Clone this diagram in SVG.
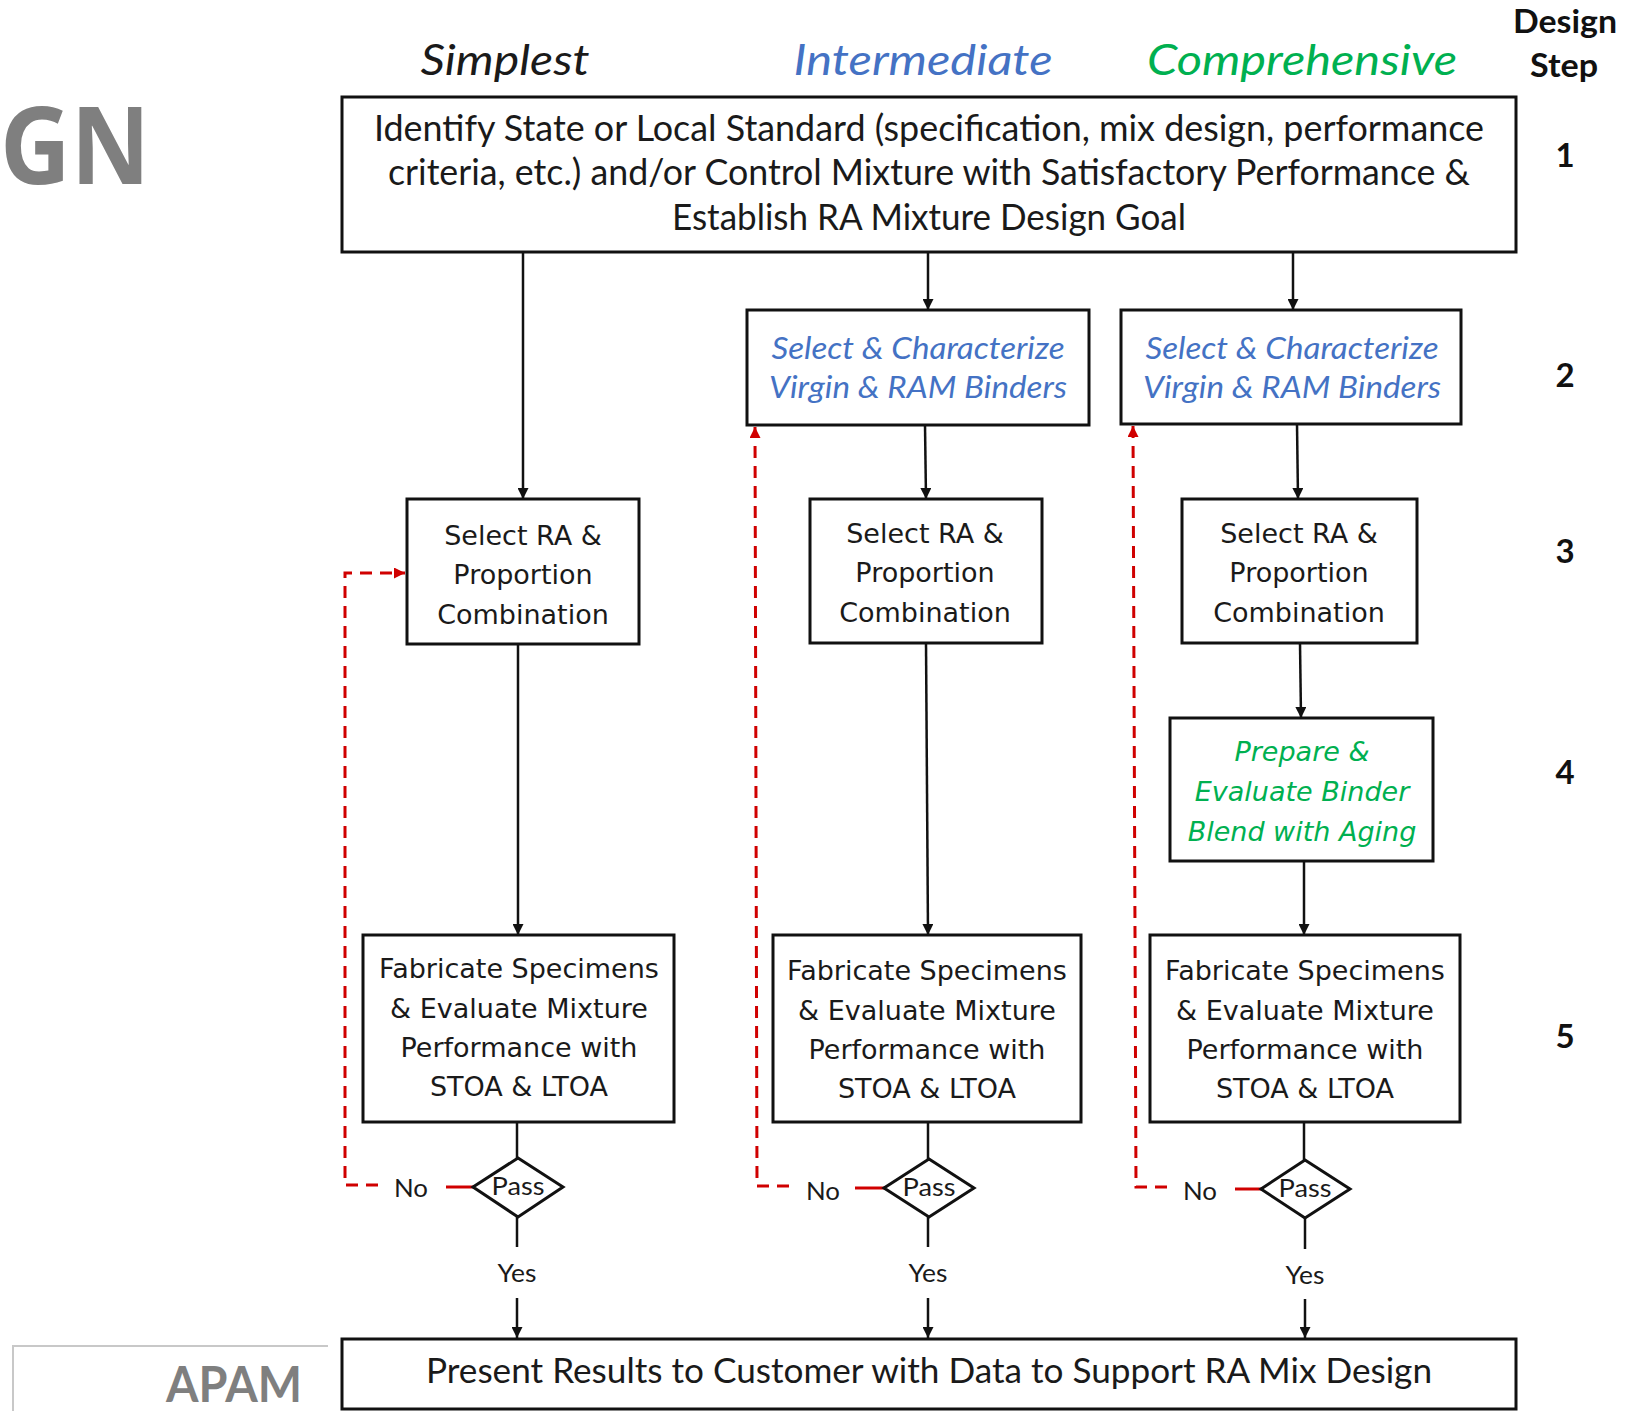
<svg xmlns="http://www.w3.org/2000/svg" width="1627" height="1411" viewBox="0 0 1627 1411">
<style>
.box{fill:#fff;stroke:#111;stroke-width:3}
.cal{font-family:Lato,"Liberation Sans",sans-serif;fill:#1a1a1a}
.ver{font-family:"DejaVu Sans","Liberation Sans",sans-serif;fill:#1a1a1a;font-size:27px;text-anchor:middle}
.blue{fill:#4472C4;font-style:italic;font-size:30px;text-anchor:middle}
.green{fill:#00B050;font-style:italic}
.step{font-family:Lato,"Liberation Sans",sans-serif;font-weight:bold;font-size:33px;fill:#111;text-anchor:middle}
.ln{fill:none;stroke:#111;stroke-width:2.5}
.red{fill:none;stroke:#D00000;stroke-width:3;stroke-dasharray:12 8}
.reds{fill:none;stroke:#D00000;stroke-width:3}
.lbl{font-family:Lato,"Liberation Sans",sans-serif;font-size:25px;fill:#1a1a1a;text-anchor:middle}
</style>
<defs>
<marker id="ah" viewBox="0 0 10 10" refX="10" refY="5" markerWidth="11" markerHeight="11" markerUnits="userSpaceOnUse" orient="auto"><path d="M0,0 L10,5 L0,10 z" fill="#111"/></marker>
<marker id="ahr" viewBox="0 0 10 10" refX="10" refY="5" markerWidth="11" markerHeight="11" markerUnits="userSpaceOnUse" orient="auto"><path d="M0,0 L10,5 L0,10 z" fill="#D00000"/></marker>
</defs>

<g id="background-labels">
<text x="150" y="184" font-family="'Open Sans',Lato,sans-serif" font-weight="bold" font-size="108" fill="#7f7f7f" text-anchor="end" textLength="150" lengthAdjust="spacingAndGlyphs">GN</text>
<path d="M328,1346 H13 V1411" fill="none" stroke="#c8c8c8" stroke-width="2"/>
<text x="302" y="1402" font-family="Lato,'Liberation Sans',sans-serif" font-weight="bold" font-size="49" fill="#7f7f7f" text-anchor="end" textLength="136" lengthAdjust="spacingAndGlyphs">APAM</text>
</g>

<g id="headers">
<text class="cal" x="505" y="75" font-size="43" font-style="italic" text-anchor="middle" textLength="169" lengthAdjust="spacingAndGlyphs">Simplest</text>
<text class="cal" x="923" y="75" font-size="43" font-style="italic" text-anchor="middle" fill="#4472C4" style="fill:#4472C4" textLength="259" lengthAdjust="spacingAndGlyphs">Intermediate</text>
<text class="cal" x="1302" y="75" font-size="43" font-style="italic" text-anchor="middle" style="fill:#00B050" textLength="310" lengthAdjust="spacingAndGlyphs">Comprehensive</text>
<text class="step" x="1565" y="33" textLength="104" lengthAdjust="spacingAndGlyphs">Design</text>
<text class="step" x="1564" y="77" textLength="68" lengthAdjust="spacingAndGlyphs">Step</text>
<text class="step" x="1565" y="167">1</text>
<text class="step" x="1565" y="387">2</text>
<text class="step" x="1565" y="563">3</text>
<text class="step" x="1565" y="784">4</text>
<text class="step" x="1565" y="1048">5</text>
</g>

<g id="connectors">
<line class="ln" x1="523" y1="252" x2="523" y2="499" marker-end="url(#ah)"/>
<line class="ln" x1="928" y1="252" x2="928" y2="310" marker-end="url(#ah)"/>
<line class="ln" x1="1293" y1="252" x2="1293" y2="310" marker-end="url(#ah)"/>
<line class="ln" x1="925" y1="425" x2="926" y2="499" marker-end="url(#ah)"/>
<line class="ln" x1="1297" y1="424" x2="1298" y2="499" marker-end="url(#ah)"/>
<line class="ln" x1="518" y1="644" x2="518" y2="935" marker-end="url(#ah)"/>
<line class="ln" x1="926" y1="643" x2="928" y2="935" marker-end="url(#ah)"/>
<line class="ln" x1="1300" y1="643" x2="1301" y2="718" marker-end="url(#ah)"/>
<line class="ln" x1="1304" y1="861" x2="1304" y2="935" marker-end="url(#ah)"/>
<line class="ln" x1="517" y1="1122" x2="517" y2="1158"/>
<line class="ln" x1="928" y1="1122" x2="928" y2="1159"/>
<line class="ln" x1="1304" y1="1122" x2="1304" y2="1160"/>
<line class="ln" x1="517" y1="1217" x2="517" y2="1247"/>
<line class="ln" x1="928" y1="1217" x2="928" y2="1247"/>
<line class="ln" x1="1305" y1="1218" x2="1305" y2="1249"/>
<line class="ln" x1="517" y1="1298" x2="517" y2="1338" marker-end="url(#ah)"/>
<line class="ln" x1="928" y1="1298" x2="928" y2="1338" marker-end="url(#ah)"/>
<line class="ln" x1="1305" y1="1299" x2="1305" y2="1338" marker-end="url(#ah)"/>
<text class="lbl" x="517" y="1282" textLength="39" lengthAdjust="spacingAndGlyphs">Yes</text>
<text class="lbl" x="928" y="1282" textLength="39" lengthAdjust="spacingAndGlyphs">Yes</text>
<text class="lbl" x="1305" y="1284" textLength="39" lengthAdjust="spacingAndGlyphs">Yes</text>
<line class="reds" x1="446" y1="1187" x2="473" y2="1187"/>
<line class="reds" x1="855" y1="1188" x2="884" y2="1188"/>
<line class="reds" x1="1235" y1="1189" x2="1261" y2="1189"/>
<text class="lbl" x="411" y="1197" textLength="34" lengthAdjust="spacingAndGlyphs">No</text>
<text class="lbl" x="823" y="1200" textLength="34" lengthAdjust="spacingAndGlyphs">No</text>
<text class="lbl" x="1200" y="1200" textLength="34" lengthAdjust="spacingAndGlyphs">No</text>
<path class="red" d="M378,1185 H345 V573 H405" marker-end="url(#ahr)"/>
<path class="red" d="M789,1186 H757 L755,427" marker-end="url(#ahr)"/>
<path class="red" d="M1167,1187 H1136 L1133,426" marker-end="url(#ahr)"/>
</g>

<g id="node-goal">
<rect class="box" x="342" y="97" width="1174" height="155"/>
<text class="cal" x="929" y="141" font-size="36" text-anchor="middle" textLength="1110" lengthAdjust="spacingAndGlyphs">Identify State or Local Standard (specification, mix design, performance</text>
<text class="cal" x="929" y="185" font-size="36" text-anchor="middle" textLength="1082" lengthAdjust="spacingAndGlyphs">criteria, etc.) and/or Control Mixture with Satisfactory Performance &amp;</text>
<text class="cal" x="929" y="230" font-size="36" text-anchor="middle" textLength="514" lengthAdjust="spacingAndGlyphs">Establish RA Mixture Design Goal</text>
</g>

<g id="node-binder-int">
<rect class="box" x="747" y="310" width="342" height="115"/>
<text class="cal blue" x="918" y="359" textLength="293" lengthAdjust="spacingAndGlyphs">Select &amp; Characterize</text>
<text class="cal blue" x="918" y="398" textLength="298" lengthAdjust="spacingAndGlyphs">Virgin &amp; RAM Binders</text>
</g>
<g id="node-binder-comp">
<rect class="box" x="1121" y="310" width="340" height="114"/>
<text class="cal blue" x="1292" y="359" textLength="293" lengthAdjust="spacingAndGlyphs">Select &amp; Characterize</text>
<text class="cal blue" x="1292" y="398" textLength="298" lengthAdjust="spacingAndGlyphs">Virgin &amp; RAM Binders</text>
</g>

<g id="node-ra-simp">
<rect class="box" x="407" y="499" width="232" height="145"/>
<text class="ver" x="523" y="545">Select RA &amp;</text>
<text class="ver" x="523" y="584">Proportion</text>
<text class="ver" x="523" y="624">Combination</text>
</g>
<g id="node-ra-int">
<rect class="box" x="810" y="499" width="232" height="144"/>
<text class="ver" x="925" y="543">Select RA &amp;</text>
<text class="ver" x="925" y="582">Proportion</text>
<text class="ver" x="925" y="622">Combination</text>
</g>
<g id="node-ra-comp">
<rect class="box" x="1182" y="499" width="235" height="144"/>
<text class="ver" x="1299" y="543">Select RA &amp;</text>
<text class="ver" x="1299" y="582">Proportion</text>
<text class="ver" x="1299" y="622">Combination</text>
</g>

<g id="node-blend">
<rect class="box" x="1170" y="718" width="263" height="143"/>
<text class="ver green" x="1302" y="761">Prepare &amp;</text>
<text class="ver green" x="1302" y="801">Evaluate Binder</text>
<text class="ver green" x="1302" y="841">Blend with Aging</text>
</g>

<g id="node-fab-simp">
<rect class="box" x="363" y="935" width="311" height="187"/>
<text class="ver" x="519" y="978">Fabricate Specimens</text>
<text class="ver" x="519" y="1018">&amp; Evaluate Mixture</text>
<text class="ver" x="519" y="1057">Performance with</text>
<text class="ver" x="519" y="1096">STOA &amp; LTOA</text>
</g>
<g id="node-fab-int">
<rect class="box" x="773" y="935" width="308" height="187"/>
<text class="ver" x="927" y="980">Fabricate Specimens</text>
<text class="ver" x="927" y="1020">&amp; Evaluate Mixture</text>
<text class="ver" x="927" y="1059">Performance with</text>
<text class="ver" x="927" y="1098">STOA &amp; LTOA</text>
</g>
<g id="node-fab-comp">
<rect class="box" x="1150" y="935" width="310" height="187"/>
<text class="ver" x="1305" y="980">Fabricate Specimens</text>
<text class="ver" x="1305" y="1020">&amp; Evaluate Mixture</text>
<text class="ver" x="1305" y="1059">Performance with</text>
<text class="ver" x="1305" y="1098">STOA &amp; LTOA</text>
</g>

<g id="node-pass-simp">
<path d="M518,1158 L563,1187 L518,1217 L473,1187 Z" fill="#fff" stroke="#111" stroke-width="3"/>
<text class="lbl" x="518" y="1195" textLength="53" lengthAdjust="spacingAndGlyphs">Pass</text>
</g>
<g id="node-pass-int">
<path d="M929,1159 L974,1188 L929,1217 L884,1188 Z" fill="#fff" stroke="#111" stroke-width="3"/>
<text class="lbl" x="929" y="1196" textLength="53" lengthAdjust="spacingAndGlyphs">Pass</text>
</g>
<g id="node-pass-comp">
<path d="M1305,1160 L1350,1189 L1305,1218 L1261,1189 Z" fill="#fff" stroke="#111" stroke-width="3"/>
<text class="lbl" x="1305" y="1197" textLength="53" lengthAdjust="spacingAndGlyphs">Pass</text>
</g>

<g id="node-present">
<rect class="box" x="342" y="1339" width="1174" height="70"/>
<text class="cal" x="929" y="1383" font-size="34" text-anchor="middle" textLength="1006" lengthAdjust="spacingAndGlyphs">Present Results to Customer with Data to Support RA Mix Design</text>
</g>
</svg>
